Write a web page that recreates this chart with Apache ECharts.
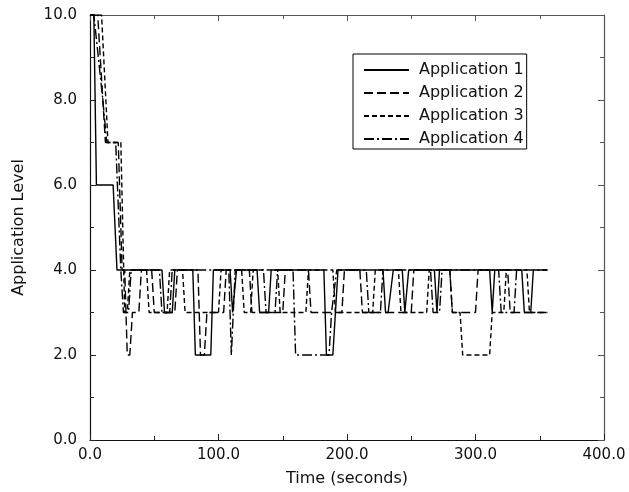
<!DOCTYPE html>
<html>
<head>
<meta charset="utf-8">
<script src="https://cdn.jsdelivr.net/npm/echarts@6/dist/echarts.min.js"></script>
<style>html,body{margin:0;padding:0;background:#fff}#c{width:629px;height:492px}</style>
</head>
<body>
<div id="c"></div>
<script>
var seriesNames = ['Application 1', 'Application 2', 'Application 3', 'Application 4'];
var xTicks = [0, 100, 200, 300, 400];
var yTicks = [0, 2, 4, 6, 8, 10];

var app1Times  = [0, 3, 5, 18, 21, 56, 58, 64, 66, 80, 82, 94, 96, 109, 111, 112, 114, 130, 132, 139, 141, 182, 184, 189, 191, 193, 228, 230, 232, 236, 243, 245, 246, 248, 268, 270, 272, 311, 313, 315, 336, 338, 343, 345, 356];
var app1Values = [10, 10, 6, 6, 4, 4, 3, 3, 4, 4, 2, 2, 4, 4, 3, 3, 4, 4, 3, 3, 4, 4, 2, 2, 3, 4, 4, 3, 3, 4, 4, 3, 3, 4, 4, 3, 4, 4, 3, 4, 4, 3, 3, 4, 4];

var app2Times  = [0, 6, 12, 22, 25, 27, 29, 31, 33, 38, 40, 48, 50, 66, 68, 84, 86, 89, 91, 104, 106, 124, 126, 150, 152, 170, 172, 196, 198, 210, 212, 250, 252, 280, 282, 300, 302, 325, 327, 356];
var app2Values = [10, 10, 7, 7, 4, 4, 2, 2, 3, 3, 4, 4, 3, 3, 4, 4, 2, 2, 3, 3, 4, 4, 3, 3, 4, 4, 3, 3, 4, 4, 3, 3, 4, 4, 3, 3, 4, 4, 3, 3];

var app3Times  = [0, 9, 14, 24, 27, 29, 31, 44, 46, 60, 62, 72, 74, 100, 102, 118, 120, 125, 127, 146, 148, 168, 170, 189, 191, 220, 222, 240, 242, 262, 264, 280, 282, 288, 290, 311, 313, 322, 324, 340, 342, 356];
var app3Values = [10, 10, 7, 7, 3, 3, 4, 4, 3, 3, 4, 4, 3, 3, 4, 4, 3, 3, 4, 4, 3, 3, 4, 4, 3, 3, 4, 4, 3, 3, 4, 4, 3, 3, 2, 2, 3, 3, 4, 4, 3, 3];

var app4Times  = [0, 3, 10, 13, 20, 24, 26, 30, 32, 54, 56, 62, 64, 108, 110, 111, 113, 135, 137, 144, 146, 158, 160, 186, 188, 192, 215, 217, 226, 228, 265, 267, 272, 274, 318, 320, 330, 332, 356];
var app4Values = [10, 10, 8, 7, 7, 4, 3, 3, 4, 4, 3, 3, 4, 4, 2, 2, 4, 4, 3, 3, 4, 4, 2, 2, 3, 4, 4, 3, 3, 4, 4, 3, 3, 4, 4, 3, 3, 4, 4];

function pairs(ts, vs) { return ts.map(function (t, i) { return [t, vs[i]]; }); }

var allTimes = [app1Times, app2Times, app3Times, app4Times];
var allValues = [app1Values, app2Values, app3Values, app4Values];
var dashTypes = ['solid', [9, 4], [5, 3], [10, 3, 2, 3]];

var FONT = 'DejaVu Sans, Liberation Sans, sans-serif';
var chart = echarts.init(document.getElementById('c'), null, { renderer: 'canvas' });

var axisLineStyle = { color: '#111', width: 1.2 };
var option = {
  animation: false,
  backgroundColor: '#fff',
  grid: { left: 90, right: 25, top: 15, bottom: 49, containLabel: false },
  legend: {
    data: seriesNames,
    orient: 'vertical',
    left: 353, top: 54,
    padding: [8, 3, 2, 10],
    itemGap: 7,
    itemWidth: 45, itemHeight: 14,
    backgroundColor: '#fff',
    borderColor: '#000', borderWidth: 1, borderRadius: 0,
    itemStyle: { opacity: 0 },
    textStyle: { fontFamily: FONT, fontSize: 16, color: '#111', padding: [0, 0, 0, 5] }
  },
  xAxis: [{
    type: 'value', min: xTicks[0], max: xTicks[xTicks.length - 1], interval: 100,
    name: 'Time (seconds)', nameLocation: 'middle', nameGap: 31,
    nameTextStyle: { fontFamily: FONT, fontSize: 16, color: '#111' },
    axisLine: { show: true, lineStyle: axisLineStyle },
    axisTick: { show: true, inside: true, length: 6, lineStyle: { color: '#222' } },
    minorTick: { show: true, splitNumber: 2, length: 4, lineStyle: { color: '#222' } },
    splitLine: { show: false },
    axisLabel: { fontFamily: FONT, fontSize: 15, color: '#111', margin: 8, formatter: function (v) { return v.toFixed(1); } }
  }, {
    type: 'value', position: 'top', min: 0, max: 400, interval: 100,
    axisLine: { show: true, onZero: false, lineStyle: { color: '#555', width: 1.2 } },
    axisTick: { show: true, inside: true, length: 6, lineStyle: { color: '#555' } },
    minorTick: { show: true, splitNumber: 2, length: 4, lineStyle: { color: '#555' } },
    splitLine: { show: false }, axisLabel: { show: false }
  }],
  yAxis: [{
    type: 'value', min: yTicks[0], max: yTicks[yTicks.length - 1], interval: 2,
    name: 'Application Level', nameLocation: 'middle', nameGap: 63, nameRotate: 90,
    nameTextStyle: { fontFamily: FONT, fontSize: 16, color: '#111' },
    axisLine: { show: true, lineStyle: axisLineStyle },
    axisTick: { show: true, inside: true, length: 6, lineStyle: { color: '#222' } },
    minorTick: { show: true, splitNumber: 2, length: 4, lineStyle: { color: '#222' } },
    splitLine: { show: false },
    axisLabel: { fontFamily: FONT, fontSize: 15, color: '#111', margin: 13, formatter: function (v) { return v.toFixed(1); } }
  }, {
    type: 'value', position: 'right', min: 0, max: 10, interval: 2,
    axisLine: { show: true, onZero: false, lineStyle: { color: '#555', width: 1.2 } },
    axisTick: { show: true, inside: true, length: 6, lineStyle: { color: '#555' } },
    minorTick: { show: true, splitNumber: 2, length: 4, lineStyle: { color: '#555' } },
    splitLine: { show: false }, axisLabel: { show: false }
  }],
  series: seriesNames.map(function (name, i) {
    return {
      name: name, type: 'line', xAxisIndex: 0, yAxisIndex: 0,
      data: pairs(allTimes[i], allValues[i]),
      symbol: 'none', showSymbol: false,
      lineStyle: { color: '#000', width: 1.4, type: dashTypes[i] },
      itemStyle: { color: '#000' },
      emphasis: { disabled: true }
    };
  })
};
chart.setOption(option);
</script>
</body>
</html>
